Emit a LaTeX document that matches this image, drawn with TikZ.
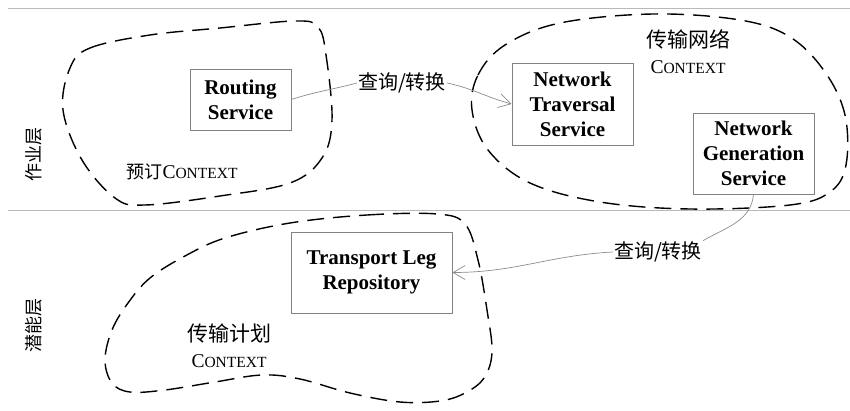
\documentclass[tikz,border=0pt]{standalone}
\usepackage{fontspec}
\usetikzlibrary{arrows.meta}
\setmainfont{Liberation Serif}
\newfontfamily\cjk{Noto Sans CJK SC}
\definecolor{boxG}{RGB}{130,130,130}
\definecolor{lineG}{RGB}{185,185,185}
\definecolor{arrG}{RGB}{140,140,140}
\newcommand{\ctxword}{C{\fontsize{15.5}{15.5}\selectfont ONTEXT}}

\begin{document}
\begin{tikzpicture}[x=1pt,y=-1pt,>={Straight Barb[length=12pt,width=14pt]},
  svc/.style={draw=boxG,line width=0.8pt,inner sep=0pt,align=center,font=\fontsize{21}{25}\selectfont\bfseries},
  ctx/.style={dash pattern=on 17pt off 9pt,line width=1.4pt,line join=round},
  lbl/.style={font=\fontsize{19.5}{26}\selectfont,align=center},
  conn/.style={draw=arrG,line width=0.7pt},
  layer/.style={font=\cjk\fontsize{18}{18}\selectfont,rotate=90}]
\useasboundingbox (0,0) rectangle (850,411);
% layer separators
\draw[lineG,line width=1pt] (8,9) -- (850,9);
\draw[lineG,line width=1pt] (8,211) -- (850,211);
\node[layer] (op) at (34,155) {作业层};
\node[layer] (pot) at (34,325) {潜能层};
% bounded contexts
\draw[ctx] plot[smooth cycle,tension=0.6] coordinates {(70,68) (90,48) (150,35) (220,28) (295,21) (318,27) (326,55) (332,120) (322,158) (290,183) (220,196) (145,205) (115,198) (82,160) (63,110)};
\draw[ctx] plot[smooth cycle,tension=0.6] coordinates {(472,110) (478,75) (505,45) (560,23) (653,14) (740,20) (790,37) (825,72) (845,115) (846,165) (830,192) (790,205) (690,209) (600,202) (530,183) (488,150)};
\draw[ctx] plot[smooth cycle,tension=0.6] coordinates {(290,223) (367,215) (437,214) (465,224) (478,260) (487,310) (492,352) (484,378) (465,393) (440,401) (400,402) (350,393) (300,379) (262,375) (215,382) (165,390) (130,392) (112,383) (105,360) (112,330) (128,303) (150,278) (185,256) (225,238)};
\node[lbl] (bk) at (182,172) {{\cjk\fontsize{18}{18}\selectfont 预订}\ctxword};
\node[lbl] (tn) at (688,52) {{\cjk\fontsize{21}{21}\selectfont 传输网络}\\\ctxword};
\node[lbl] (tp) at (229,346) {{\cjk\fontsize{21}{21}\selectfont 传输计划}\\\ctxword};
% services
\node[svc,minimum width=101pt,minimum height=61pt] (rs) at (240.5,99.5) {Routing\\Service};
\node[svc,minimum width=121pt,minimum height=82pt] (nts) at (572.5,104) {Network\\Traversal\\Service};
\node[svc,minimum width=121pt,minimum height=81pt] (ngs) at (753.5,153.5) {Network\\Generation\\Service};
\node[svc,minimum width=161pt,minimum height=81pt] (tlr) at (371.5,272.5) {Transport Leg\\Repository};
% query / translate
\node[lbl,font=\cjk\fontsize{20}{20}\selectfont,inner sep=1pt] (q1) at (402,83) {查询/转换};
\node[lbl,font=\cjk\fontsize{20}{20}\selectfont,inner sep=1pt] (q2) at (658,252) {查询/转换};
\draw[conn] (rs.east) to[out=18,in=195] (q1.west);
\draw[conn,->] (q1.east) to[out=-12,in=165] (nts.west);
\draw[conn] (ngs.south) to[out=-95,in=30] (q2.north east);
\draw[conn,->] (q2.west) to[out=183,in=0] (tlr.east);
\end{tikzpicture}
\end{document}
